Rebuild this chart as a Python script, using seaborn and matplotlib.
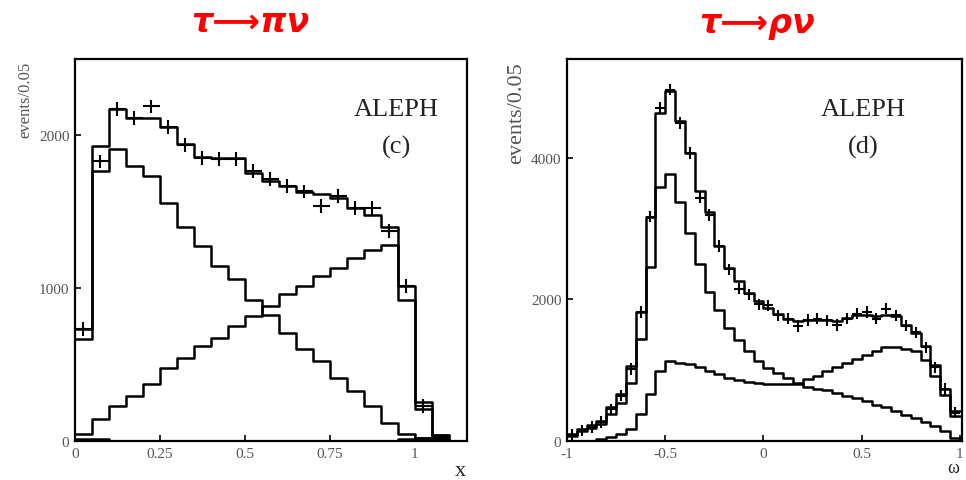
import numpy as np
import pandas as pd
import matplotlib
matplotlib.use("Agg")
from matplotlib import pyplot as plt
import seaborn as sns

# tau -> pi nu : x distribution, bins of 0.05 from 0 to 1.10
pi_edges = np.round(np.arange(0, 1.1001, 0.05), 3)
pi_total = [733, 1924, 2167, 2109, 2109, 2050, 1941, 1854, 1850, 1846, 1750, 1696, 1663,
            1624, 1615, 1587, 1522, 1478, 1400, 1011, 254, 40]
pi_falling = [663, 1761, 1909, 1798, 1728, 1554, 1398, 1276, 1146, 1059, 924, 826, 707,
              598, 522, 413, 326, 228, 120, 43, 22, 0]
pi_rising = [43, 141, 228, 293, 370, 478, 544, 620, 674, 750, 815, 880, 957,
             1011, 1076, 1130, 1196, 1250, 1280, 924, 211, 10]
pi_bkg = [15, 15, 0, 0, 0, 0, 0, 0, 0, 0, 0, 0, 0, 0, 0, 0, 0, 0, 0, 12, 20, 40]
pi_data = [733, 1826, 2167, 2109, 2185, 2050, 1935, 1848, 1841, 1841, 1761, 1711, 1663,
           1630, 1533, 1598, 1522, 1522, 1370, 1011, 228]

# tau -> rho nu : omega distribution, bins of 0.05 from -1 to 1
rho_edges = np.round(np.arange(-1, 1.0001, 0.05), 3)
rho_total = [100, 170, 225, 283, 480, 659, 1060, 1823, 3160, 4633, 4950, 4515, 4066, 3532,
             3239, 2755, 2449, 2261, 2096, 1978, 1884, 1790, 1728, 1696, 1710, 1705, 1705,
             1691, 1738, 1785, 1785, 1771, 1785, 1761, 1644, 1526, 1338, 1079, 735, 419]
rho_peaked = [71, 141, 188, 240, 380, 541, 824, 1437, 2463, 3589, 3768, 3380, 2934, 2506,
              2110, 1847, 1592, 1422, 1272, 1130, 1036, 965, 895, 824, 760, 738, 716,
              678, 640, 607, 560, 513, 480, 419, 372, 325, 264, 217, 137, 42]
rho_broad = [0, 0, 0, 24, 57, 94, 165, 377, 659, 989, 1130, 1107, 1083, 1046, 989, 942,
             895, 860, 834, 815, 805, 801, 801, 810, 870, 923, 984, 1041, 1102, 1159,
             1220, 1267, 1324, 1324, 1300, 1267, 1150, 914, 655, 349]
rho_data = [90, 150, 200, 270, 449, 638, 1017, 1820, 3168, 4704, 4964, 4492, 4066, 3437,
            3191, 2755, 2426, 2152, 2072, 1931, 1917, 1776, 1728, 1625, 1710, 1728, 1702,
            1640, 1726, 1797, 1820, 1726, 1868, 1773, 1631, 1537, 1324, 1040, 733, 402]

sns.set_theme(style="ticks")
plt.rcParams['font.family'] = ['Liberation Serif', 'DejaVu Serif']

fig = plt.figure(figsize=(9.66, 4.81), dpi=100)
ax1 = fig.add_axes([75 / 966, 1 - 442 / 481, 392 / 966, 382 / 481])
ax2 = fig.add_axes([567 / 966, 1 - 442 / 481, 394.7 / 966, 382 / 481])


def step_hist(ax, edges, values, fill=False):
    centers = (edges[:-1] + edges[1:]) / 2
    df = pd.DataFrame({'x': centers[:len(values)], 'w': np.asarray(values, dtype=float)})
    kw = dict(alpha=1) if fill else {}
    sns.histplot(data=df, x='x', weights='w', bins=edges.tolist(), element="step",
                 fill=fill, color="black", linewidth=1.8, ax=ax, **kw)


def data_points(ax, edges, values, err):
    centers = (edges[:-1] + edges[1:]) / 2
    centers = centers[:len(values)]
    ax.errorbar(centers, values, xerr=0.025, yerr=err, fmt='none',
                ecolor='black', elinewidth=1.5, capsize=0)


# left panel
step_hist(ax1, pi_edges, pi_bkg, fill=True)
for vals in (pi_total, pi_falling, pi_rising):
    step_hist(ax1, pi_edges, vals)
data_points(ax1, pi_edges, pi_data, 45)
ax1.set_xlim(0, 1.153)
ax1.set_ylim(0, 2495)
ax1.set_xticks([0, 0.25, 0.5, 0.75, 1])
ax1.set_xticklabels(['0', '0.25', '0.5', '0.75', '1'])
ax1.set_yticks([0, 1000, 2000])
ax1.text(0.82, 0.87, 'ALEPH', transform=ax1.transAxes, ha='center', va='center',
         fontsize=19, color='#222222')
ax1.text(0.82, 0.77, '(c)', transform=ax1.transAxes, ha='center', va='center',
         fontsize=19, color='#222222')

# right panel
for vals in (rho_total, rho_peaked, rho_broad):
    step_hist(ax2, rho_edges, vals)
data_points(ax2, rho_edges, rho_data, 80)
ax2.set_xlim(-1, 1.009)
ax2.set_ylim(0, 5395)
ax2.set_xticks([-1, -0.5, 0, 0.5, 1])
ax2.set_xticklabels(['-1', '-0.5', '0', '0.5', '1'])
ax2.set_yticks([0, 2000, 4000])
ax2.text(0.75, 0.87, 'ALEPH', transform=ax2.transAxes, ha='center', va='center',
         fontsize=19, color='#222222')
ax2.text(0.75, 0.77, '(d)', transform=ax2.transAxes, ha='center', va='center',
         fontsize=19, color='#222222')

for ax in (ax1, ax2):
    ax.set_xlabel('')
    ax.set_ylabel('')
    for s in ax.spines.values():
        s.set_visible(True)
        s.set_linewidth(1.6)
        s.set_color('black')
    ax.tick_params(direction='in', length=4, width=1.2, labelsize=11,
                   labelcolor='#555555', color='black', pad=4)

fig.text(25 / 966, 1 - 62 / 481, 'events/0.05', rotation=90, ha='center', va='top',
         fontsize=12, color='#555555')
fig.text(517 / 966, 1 - 62 / 481, 'events/0.05', rotation=90, ha='center', va='top',
         fontsize=16, color='#555555')
fig.text(460 / 966, 1 - 472 / 481, 'x', ha='center', va='center', fontsize=16)
fig.text(953 / 966, 1 - 469 / 481, 'ω', ha='center', va='center', fontsize=13)

title_kw = dict(ha='center', va='center', color='#ff0000', fontsize=24,
                fontweight='bold', fontstyle='italic', family=['DejaVu Sans'])
fig.text(250 / 966, 1 - 23 / 481, 'τ⟶πν', **title_kw)
fig.text(757 / 966, 1 - 23 / 481, 'τ⟶ρν', **title_kw)

fig.savefig('out.png', dpi=100)
